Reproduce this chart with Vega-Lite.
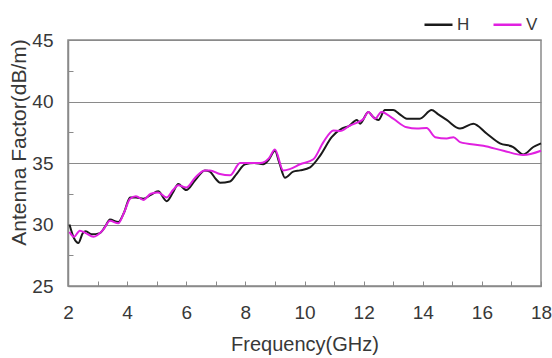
{
  "$schema": "https://vega.github.io/schema/vega-lite/v6.json",
  "autosize": {"type": "none"},
  "width": 473,
  "height": 246,
  "padding": {"left": 68, "top": 40, "right": 11, "bottom": 72},
  "background": "white",
  "config": {
    "view": {"stroke": "#8a8a8a", "strokeWidth": 1.5},
    "font": "Liberation Sans",
    "axis": {"labelFont": "Liberation Sans", "titleFont": "Liberation Sans", "labelColor": "#383838", "titleColor": "#383838", "labelFontSize": 19, "titleFontSize": 20, "titleFontWeight": "normal", "domainColor": "#8a8a8a", "domainWidth": 1.5, "tickColor": "#8a8a8a", "gridColor": "#8a8a8a", "gridWidth": 1.2}
  },
  "data": {"values": [
    {"f": 2.05, "v": 30.0, "s": "H"}, {"f": 2.2, "v": 28.9, "s": "H"}, {"f": 2.35, "v": 28.5, "s": "H"}, {"f": 2.5, "v": 29.3, "s": "H"}, {"f": 2.6, "v": 29.45, "s": "H"}, {"f": 2.8, "v": 29.2, "s": "H"}, {"f": 3.08, "v": 29.3, "s": "H"}, {"f": 3.25, "v": 29.8, "s": "H"}, {"f": 3.42, "v": 30.4, "s": "H"}, {"f": 3.7, "v": 30.2, "s": "H"}, {"f": 3.9, "v": 31.0, "s": "H"}, {"f": 4.1, "v": 32.2, "s": "H"}, {"f": 4.3, "v": 32.2, "s": "H"}, {"f": 4.55, "v": 32.1, "s": "H"}, {"f": 4.8, "v": 32.4, "s": "H"}, {"f": 5.05, "v": 32.7, "s": "H"}, {"f": 5.34, "v": 31.9, "s": "H"}, {"f": 5.55, "v": 32.6, "s": "H"}, {"f": 5.73, "v": 33.3, "s": "H"}, {"f": 6.0, "v": 32.8, "s": "H"}, {"f": 6.3, "v": 33.6, "s": "H"}, {"f": 6.63, "v": 34.4, "s": "H"}, {"f": 6.8, "v": 34.3, "s": "H"}, {"f": 7.0, "v": 33.7, "s": "H"}, {"f": 7.14, "v": 33.4, "s": "H"}, {"f": 7.48, "v": 33.5, "s": "H"}, {"f": 7.7, "v": 34.1, "s": "H"}, {"f": 7.99, "v": 34.9, "s": "H"}, {"f": 8.3, "v": 35.0, "s": "H"}, {"f": 8.6, "v": 34.9, "s": "H"}, {"f": 8.8, "v": 35.3, "s": "H"}, {"f": 9.0, "v": 36.0, "s": "H"}, {"f": 9.15, "v": 35.0, "s": "H"}, {"f": 9.34, "v": 33.8, "s": "H"}, {"f": 9.62, "v": 34.3, "s": "H"}, {"f": 9.85, "v": 34.4, "s": "H"}, {"f": 10.19, "v": 34.65, "s": "H"}, {"f": 10.53, "v": 35.6, "s": "H"}, {"f": 10.92, "v": 37.1, "s": "H"}, {"f": 11.26, "v": 37.8, "s": "H"}, {"f": 11.5, "v": 38.0, "s": "H"}, {"f": 11.77, "v": 38.5, "s": "H"}, {"f": 11.88, "v": 38.2, "s": "H"}, {"f": 12.16, "v": 39.15, "s": "H"}, {"f": 12.3, "v": 38.8, "s": "H"}, {"f": 12.5, "v": 38.5, "s": "H"}, {"f": 12.72, "v": 39.3, "s": "H"}, {"f": 13.0, "v": 39.3, "s": "H"}, {"f": 13.2, "v": 39.0, "s": "H"}, {"f": 13.46, "v": 38.6, "s": "H"}, {"f": 13.9, "v": 38.6, "s": "H"}, {"f": 14.3, "v": 39.3, "s": "H"}, {"f": 14.5, "v": 39.0, "s": "H"}, {"f": 14.81, "v": 38.5, "s": "H"}, {"f": 15.26, "v": 37.8, "s": "H"}, {"f": 15.71, "v": 38.2, "s": "H"}, {"f": 16.16, "v": 37.4, "s": "H"}, {"f": 16.61, "v": 36.6, "s": "H"}, {"f": 17.06, "v": 36.3, "s": "H"}, {"f": 17.4, "v": 35.7, "s": "H"}, {"f": 17.74, "v": 36.3, "s": "H"}, {"f": 18.0, "v": 36.6, "s": "H"},
    {"f": 2.05, "v": 29.4, "s": "V"}, {"f": 2.2, "v": 29.0, "s": "V"}, {"f": 2.4, "v": 29.5, "s": "V"}, {"f": 2.6, "v": 29.3, "s": "V"}, {"f": 2.86, "v": 29.0, "s": "V"}, {"f": 3.2, "v": 29.6, "s": "V"}, {"f": 3.42, "v": 30.3, "s": "V"}, {"f": 3.7, "v": 30.1, "s": "V"}, {"f": 3.9, "v": 31.0, "s": "V"}, {"f": 4.1, "v": 32.1, "s": "V"}, {"f": 4.3, "v": 32.3, "s": "V"}, {"f": 4.55, "v": 32.0, "s": "V"}, {"f": 4.8, "v": 32.5, "s": "V"}, {"f": 5.05, "v": 32.6, "s": "V"}, {"f": 5.34, "v": 32.2, "s": "V"}, {"f": 5.55, "v": 32.8, "s": "V"}, {"f": 5.73, "v": 33.2, "s": "V"}, {"f": 6.0, "v": 33.0, "s": "V"}, {"f": 6.3, "v": 33.8, "s": "V"}, {"f": 6.63, "v": 34.4, "s": "V"}, {"f": 6.8, "v": 34.4, "s": "V"}, {"f": 7.14, "v": 34.1, "s": "V"}, {"f": 7.48, "v": 34.0, "s": "V"}, {"f": 7.82, "v": 35.0, "s": "V"}, {"f": 8.2, "v": 35.0, "s": "V"}, {"f": 8.5, "v": 35.0, "s": "V"}, {"f": 8.8, "v": 35.4, "s": "V"}, {"f": 9.0, "v": 36.1, "s": "V"}, {"f": 9.28, "v": 34.4, "s": "V"}, {"f": 9.5, "v": 34.5, "s": "V"}, {"f": 9.85, "v": 34.9, "s": "V"}, {"f": 10.3, "v": 35.3, "s": "V"}, {"f": 10.64, "v": 36.7, "s": "V"}, {"f": 10.98, "v": 37.65, "s": "V"}, {"f": 11.2, "v": 37.6, "s": "V"}, {"f": 11.54, "v": 38.05, "s": "V"}, {"f": 11.8, "v": 38.3, "s": "V"}, {"f": 12.0, "v": 38.6, "s": "V"}, {"f": 12.16, "v": 39.15, "s": "V"}, {"f": 12.39, "v": 38.6, "s": "V"}, {"f": 12.6, "v": 39.15, "s": "V"}, {"f": 13.0, "v": 38.6, "s": "V"}, {"f": 13.46, "v": 37.9, "s": "V"}, {"f": 13.8, "v": 37.8, "s": "V"}, {"f": 14.13, "v": 37.85, "s": "V"}, {"f": 14.42, "v": 37.1, "s": "V"}, {"f": 14.81, "v": 37.0, "s": "V"}, {"f": 15.04, "v": 37.1, "s": "V"}, {"f": 15.26, "v": 36.7, "s": "V"}, {"f": 16.05, "v": 36.4, "s": "V"}, {"f": 16.73, "v": 36.0, "s": "V"}, {"f": 17.4, "v": 35.65, "s": "V"}, {"f": 18.0, "v": 36.0, "s": "V"}
  ]},
  "mark": {"type": "line", "strokeWidth": 2, "interpolate": "monotone"},
  "encoding": {
    "x": {"field": "f", "type": "quantitative", "scale": {"domain": [2, 18], "nice": false},
      "axis": {"title": "Frequency(GHz)", "values": [2,3,4,5,6,7,8,9,10,11,12,13,14,15,16,17,18], "labelExpr": "datum.value % 2 === 0 ? datum.label : ''", "grid": false, "tickSize": -5, "labelPadding": 22, "titlePadding": 12, "labelFlush": false}},
    "y": {"field": "v", "type": "quantitative", "scale": {"domain": [25, 45], "nice": false, "zero": false},
      "axis": {"title": "Antenna Factor(dB/m)", "titleY": 102, "titleFontSize": 21, "values": [25,27.5,30,32.5,35,37.5,40,42.5,45], "labelExpr": "datum.value % 5 === 0 ? datum.label : ''", "gridOpacity": {"condition": {"test": "datum.value % 5 === 0", "value": 1}, "value": 0}, "tickSize": -5, "labelPadding": 20, "titlePadding": 2}},
    "color": {"field": "s", "type": "nominal", "scale": {"domain": ["H", "V"], "range": ["#1a1a1a", "#e020e0"]},
      "legend": {"title": null, "orient": "none", "legendX": 355, "legendY": -31, "direction": "horizontal", "symbolType": "stroke", "symbolSize": 784, "symbolStrokeWidth": 2.5, "labelFontSize": 17, "labelFont": "Liberation Sans", "labelColor": "#383838", "columnPadding": 18, "labelOffset": 3}}
  }
}
